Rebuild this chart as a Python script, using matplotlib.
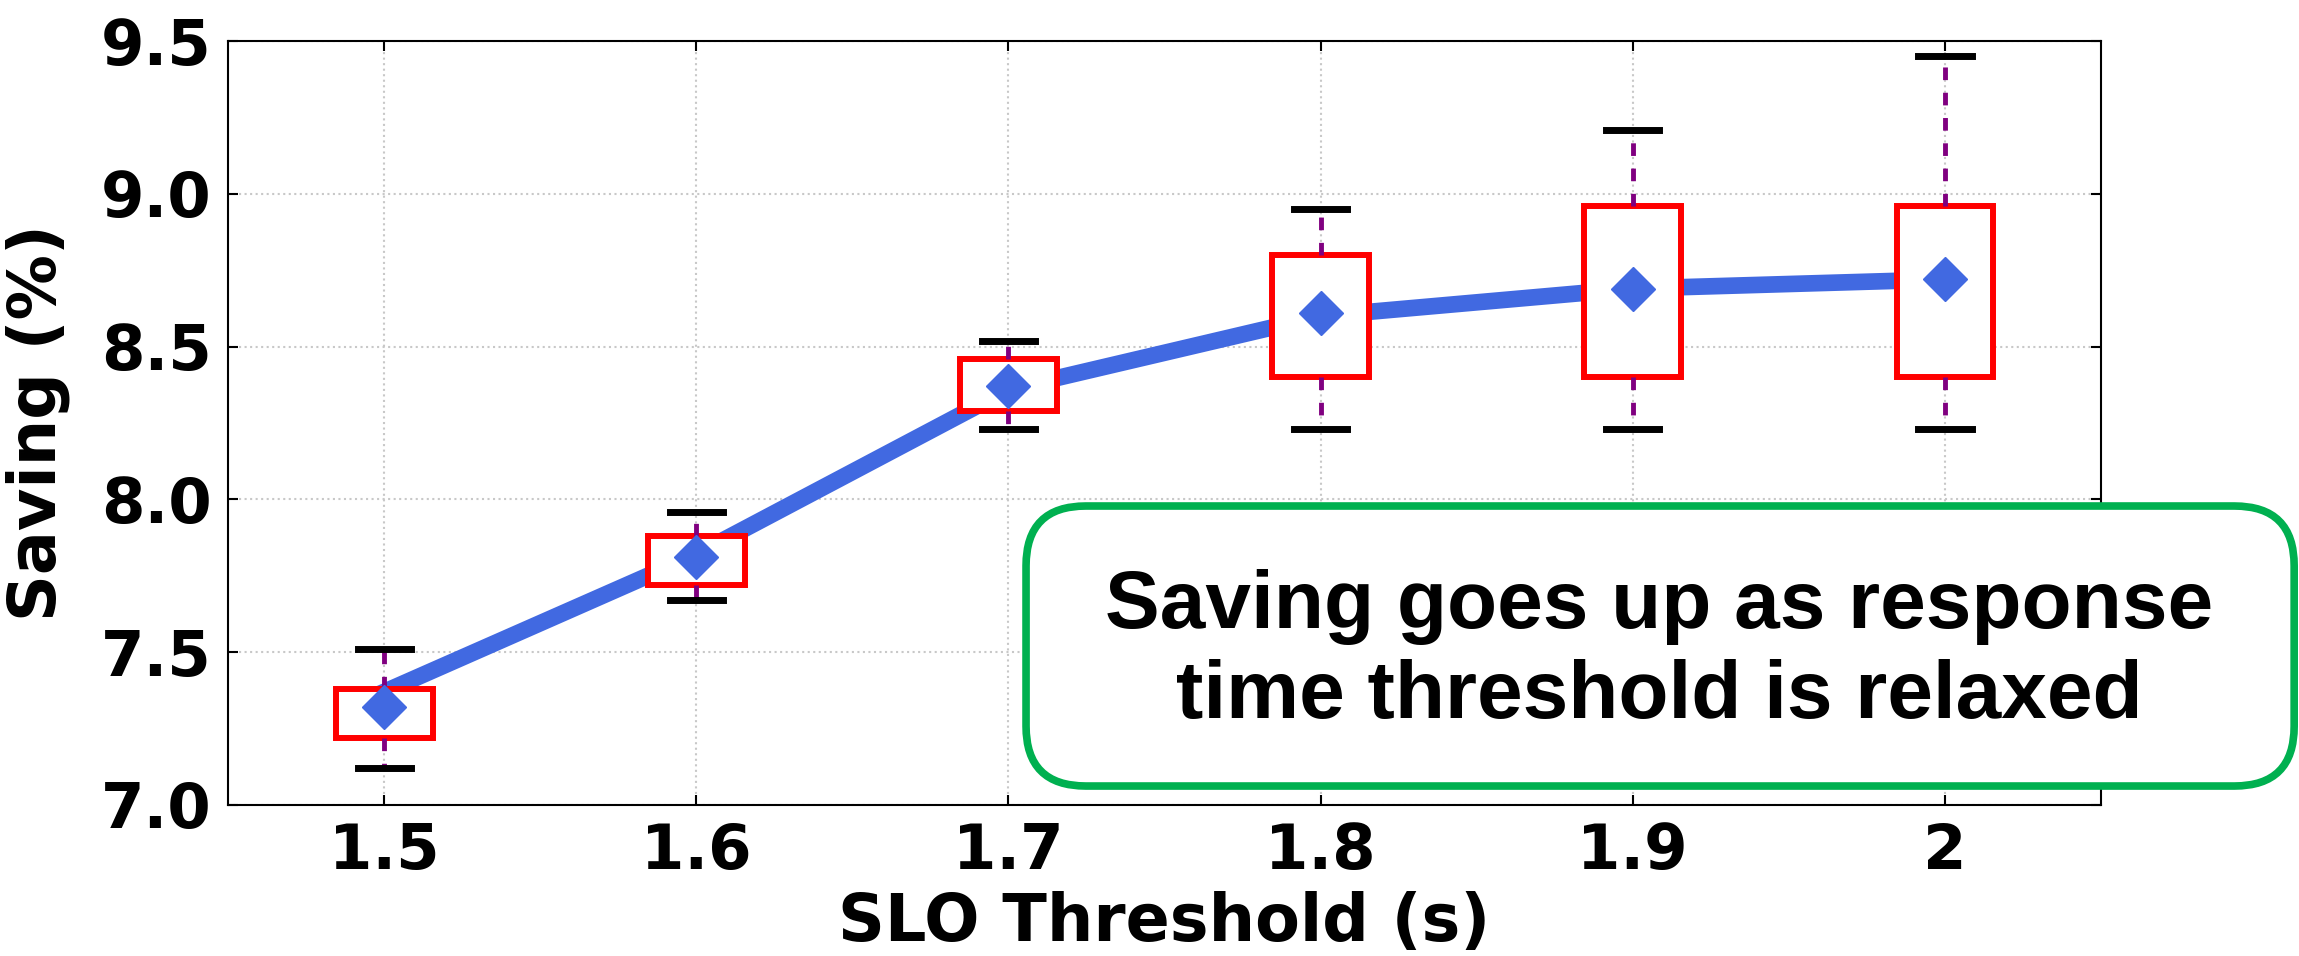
import matplotlib
matplotlib.use("Agg")
import matplotlib.pyplot as plt
from matplotlib.patches import FancyBboxPatch

# SLO thresholds (s) and saving statistics (%)
thresholds = ["1.5", "1.6", "1.7", "1.8", "1.9", "2"]
whisker_low = [7.12, 7.67, 8.23, 8.23, 8.23, 8.23]
q1 = [7.22, 7.72, 8.29, 8.40, 8.40, 8.40]
median = [7.37, 7.82, 8.36, 8.60, 8.69, 8.72]
q3 = [7.38, 7.88, 8.46, 8.80, 8.96, 8.96]
whisker_high = [7.51, 7.96, 8.52, 8.95, 9.21, 9.45]
mean = [7.32, 7.81, 8.37, 8.61, 8.69, 8.72]

note = "Saving goes up as response\ntime threshold is relaxed"

fig = plt.figure(figsize=(22.99, 9.56), dpi=100)
ax = fig.add_axes([0.0992, 0.158, 0.8147, 0.799])

positions = list(range(1, len(thresholds) + 1))
stats = []
for i in range(len(thresholds)):
    stats.append(dict(whislo=whisker_low[i], q1=q1[i], med=median[i], q3=q3[i],
                      whishi=whisker_high[i], mean=mean[i], fliers=[]))

# median trend line sits under the boxes
ax.plot(positions, median, color="#4169e1", lw=12, zorder=2,
        solid_capstyle="projecting")

bp = ax.bxp(stats, positions=positions, widths=0.31, capwidths=0.17,
            patch_artist=True, showmeans=True, zorder=3,
            boxprops=dict(facecolor="white", edgecolor="#ff0000", linewidth=4.3),
            whiskerprops=dict(color="#800080", linewidth=3.5, linestyle=(0, (2.6, 2.6))),
            capprops=dict(color="black", linewidth=5),
            medianprops=dict(linewidth=0),
            meanprops=dict(marker="D", markerfacecolor="#4169e1",
                           markeredgecolor="#4169e1", markersize=22))
for m in bp["medians"]:
    m.set_visible(False)

ax.set_xlim(0.5, 6.5)
ax.set_ylim(7.0, 9.5)
ax.set_yticks([7.0, 7.5, 8.0, 8.5, 9.0, 9.5])
ax.set_yticklabels(["7.0", "7.5", "8.0", "8.5", "9.0", "9.5"])
ax.set_xticks(positions)
ax.set_xticklabels(thresholds)

ax.grid(True, linestyle=":", color="#c8c8c8", linewidth=1.5, zorder=0)
ax.set_axisbelow(True)
ax.tick_params(direction="in", length=7, width=1.5, top=True, right=True,
               labelsize=45, pad=12)
for lbl in ax.get_xticklabels() + ax.get_yticklabels():
    lbl.set_fontweight("bold")
for sp in ax.spines.values():
    sp.set_linewidth(1.5)

ax.set_xlabel("SLO Threshold (s)", fontsize=47, fontweight="bold", labelpad=7)
ax.set_ylabel("Saving (%)", fontsize=47, fontweight="bold", labelpad=22)

# rounded call-out box with the takeaway
box = FancyBboxPatch((0.4463, 0.1778), 0.5516, 0.2929,
                     boxstyle="round,pad=0,rounding_size=0.026",
                     mutation_aspect=2299 / 956,
                     transform=fig.transFigure, facecolor="white",
                     edgecolor="#00b050", linewidth=5.5, zorder=10)
fig.add_artist(box)
fig.text(0.7218, 0.318, note, ha="center", va="center", fontsize=59,
         fontweight="bold", family=["Liberation Sans", "DejaVu Sans"],
         linespacing=1.25, zorder=11)

fig.savefig("out.png", dpi=100)
